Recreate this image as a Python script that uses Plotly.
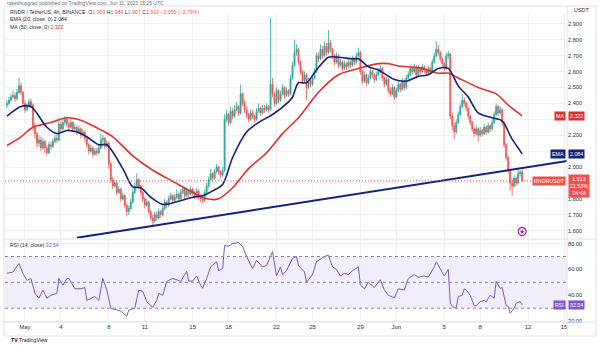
import plotly.graph_objects as go
import pandas as pd

W, H = 600, 345
FONT = "Liberation Sans, Arial, sans-serif"

# ---------------- data ----------------
t0 = pd.Timestamp("2023-04-29 12:00")   # first 4h candle
first_open = 2.39

closes = [
    2.40, 2.42, 2.44, 2.45, 2.43, 2.47, 2.51, 2.47, 2.40, 2.36,
    2.38, 2.41, 2.39, 2.26, 2.21, 2.15, 2.17, 2.12, 2.16, 2.12,
    2.09, 2.14, 2.13, 2.16, 2.18, 2.17, 2.27, 2.24, 2.28, 2.30,
    2.27, 2.25, 2.28, 2.24, 2.25, 2.22, 2.24, 2.20, 2.22, 2.18,
    2.14, 2.10, 2.12, 2.08, 2.10, 2.09, 2.12, 2.17, 2.18, 2.13,
    2.15, 2.02, 1.92, 1.88, 1.90, 1.84, 1.86, 1.80, 1.82, 1.76,
    1.72, 1.74, 1.78, 1.84, 1.88, 1.92, 1.88, 1.84, 1.80, 1.76,
    1.78, 1.72, 1.68, 1.66, 1.70, 1.68, 1.72, 1.70, 1.74, 1.78,
    1.76, 1.80, 1.82, 1.79, 1.81, 1.83, 1.80, 1.84, 1.86, 1.82,
    1.85, 1.83, 1.86, 1.84, 1.82, 1.85, 1.81, 1.80, 1.79, 1.84,
    1.88, 1.92, 1.96, 1.93, 1.97, 2.00, 1.97, 1.95, 1.98, 2.30,
    2.33, 2.28, 2.35, 2.32, 2.36, 2.38, 2.34, 2.46, 2.40, 2.36,
    2.33, 2.30, 2.34, 2.32, 2.30, 2.35, 2.37, 2.34, 2.37, 2.36,
    2.38, 2.36, 2.52, 2.46, 2.40, 2.48, 2.42, 2.46, 2.50, 2.45,
    2.48, 2.46, 2.56, 2.64, 2.72, 2.74, 2.66, 2.60, 2.54, 2.58,
    2.50, 2.54, 2.52, 2.56, 2.60, 2.70, 2.68, 2.74, 2.70, 2.76,
    2.72, 2.78, 2.74, 2.70, 2.66, 2.70, 2.64, 2.66, 2.62, 2.65,
    2.63, 2.66, 2.64, 2.68, 2.66, 2.70, 2.72, 2.60, 2.54, 2.58,
    2.53, 2.56, 2.60, 2.58, 2.55, 2.58, 2.60, 2.62, 2.56, 2.52,
    2.55, 2.48, 2.46, 2.50, 2.44, 2.48, 2.52, 2.49, 2.54, 2.50,
    2.56, 2.58, 2.62, 2.60, 2.63, 2.58, 2.62, 2.60, 2.63, 2.61,
    2.59, 2.62, 2.60, 2.66, 2.70, 2.74, 2.72, 2.68, 2.65, 2.62,
    2.70, 2.71, 2.32, 2.26, 2.22, 2.28, 2.33, 2.38, 2.42, 2.40,
    2.37, 2.32, 2.28, 2.24, 2.21, 2.24, 2.20, 2.23, 2.21, 2.25,
    2.22, 2.26, 2.24, 2.28, 2.33, 2.38, 2.34, 2.36, 2.28, 2.14,
    2.06, 1.98, 1.90, 1.88, 1.93, 1.90, 1.96, 1.969, 1.913,
]

highs = [
    2.42, 2.44, 2.46, 2.48, 2.47, 2.49, 2.56, 2.53, 2.48, 2.42,
    2.40, 2.43, 2.43, 2.40, 2.28, 2.22, 2.20, 2.19, 2.18, 2.17,
    2.14, 2.16, 2.16, 2.18, 2.20, 2.20, 2.31, 2.29, 2.30, 2.32,
    2.31, 2.29, 2.30, 2.29, 2.27, 2.26, 2.26, 2.25, 2.24, 2.23,
    2.19, 2.15, 2.14, 2.13, 2.12, 2.12, 2.14, 2.21, 2.20, 2.19,
    2.17, 2.16, 2.03, 1.94, 1.92, 1.91, 1.88, 1.87, 1.84, 1.83,
    1.77, 1.76, 1.80, 1.86, 1.90, 1.96, 1.93, 1.89, 1.85, 1.81,
    1.80, 1.79, 1.73, 1.70, 1.72, 1.72, 1.74, 1.73, 1.76, 1.80,
    1.79, 1.82, 1.84, 1.83, 1.83, 1.86, 1.84, 1.86, 1.88, 1.87,
    1.87, 1.86, 1.88, 1.87, 1.85, 1.87, 1.86, 1.83, 1.81, 1.86,
    1.90, 1.94, 1.99, 1.97, 1.99, 2.02, 2.01, 1.98, 2.00, 2.33,
    2.36, 2.34, 2.38, 2.37, 2.39, 2.41, 2.39, 2.52, 2.47, 2.42,
    2.38, 2.34, 2.36, 2.36, 2.33, 2.37, 2.40, 2.38, 2.39, 2.39,
    2.40, 2.39, 2.94, 2.56, 2.47, 2.50, 2.49, 2.48, 2.52, 2.51,
    2.50, 2.49, 2.58, 2.66, 2.80, 2.77, 2.75, 2.67, 2.61, 2.60,
    2.59, 2.56, 2.56, 2.58, 2.62, 2.72, 2.72, 2.77, 2.76, 2.79,
    2.78, 2.86, 2.80, 2.75, 2.71, 2.72, 2.71, 2.68, 2.67, 2.67,
    2.66, 2.68, 2.67, 2.70, 2.69, 2.72, 2.75, 2.73, 2.61, 2.60,
    2.59, 2.58, 2.62, 2.61, 2.59, 2.60, 2.62, 2.64, 2.63, 2.57,
    2.57, 2.56, 2.50, 2.52, 2.51, 2.50, 2.54, 2.53, 2.56, 2.55,
    2.58, 2.60, 2.64, 2.63, 2.65, 2.64, 2.64, 2.63, 2.65, 2.64,
    2.62, 2.64, 2.63, 2.68, 2.72, 2.79, 2.77, 2.73, 2.69, 2.66,
    2.72, 2.73, 2.72, 2.34, 2.28, 2.30, 2.35, 2.40, 2.46, 2.44,
    2.41, 2.38, 2.33, 2.29, 2.25, 2.26, 2.25, 2.25, 2.24, 2.27,
    2.26, 2.28, 2.27, 2.30, 2.35, 2.40, 2.39, 2.38, 2.37, 2.29,
    2.15, 2.07, 1.99, 1.92, 1.95, 1.94, 1.985, 1.98, 1.986,
]

lows = [
    2.37, 2.39, 2.41, 2.43, 2.41, 2.42, 2.46, 2.45, 2.38, 2.34,
    2.35, 2.37, 2.37, 2.23, 2.18, 2.12, 2.13, 2.10, 2.11, 2.09,
    2.07, 2.08, 2.11, 2.12, 2.15, 2.15, 2.16, 2.22, 2.23, 2.26,
    2.25, 2.23, 2.24, 2.22, 2.22, 2.20, 2.21, 2.18, 2.19, 2.16,
    2.12, 2.08, 2.09, 2.06, 2.07, 2.07, 2.08, 2.11, 2.15, 2.11,
    2.12, 1.99, 1.90, 1.86, 1.87, 1.82, 1.83, 1.78, 1.79, 1.74,
    1.69, 1.70, 1.73, 1.77, 1.83, 1.87, 1.86, 1.82, 1.78, 1.74,
    1.75, 1.70, 1.66, 1.63, 1.65, 1.66, 1.67, 1.68, 1.69, 1.73,
    1.74, 1.75, 1.79, 1.77, 1.78, 1.80, 1.78, 1.79, 1.83, 1.80,
    1.81, 1.81, 1.82, 1.82, 1.80, 1.81, 1.79, 1.78, 1.77, 1.78,
    1.83, 1.87, 1.91, 1.91, 1.92, 1.96, 1.95, 1.93, 1.94, 1.97,
    2.28, 2.26, 2.27, 2.30, 2.31, 2.35, 2.32, 2.33, 2.38, 2.34,
    2.31, 2.28, 2.29, 2.30, 2.28, 2.29, 2.34, 2.32, 2.33, 2.34,
    2.35, 2.34, 2.35, 2.44, 2.38, 2.39, 2.40, 2.41, 2.45, 2.43,
    2.44, 2.44, 2.45, 2.55, 2.63, 2.70, 2.64, 2.58, 2.52, 2.53,
    2.42, 2.49, 2.50, 2.51, 2.55, 2.59, 2.66, 2.67, 2.68, 2.69,
    2.70, 2.71, 2.72, 2.68, 2.64, 2.65, 2.62, 2.63, 2.60, 2.61,
    2.61, 2.62, 2.62, 2.63, 2.64, 2.65, 2.69, 2.58, 2.52, 2.53,
    2.51, 2.52, 2.55, 2.56, 2.53, 2.54, 2.57, 2.59, 2.54, 2.50,
    2.51, 2.46, 2.44, 2.45, 2.42, 2.43, 2.47, 2.47, 2.48, 2.48,
    2.49, 2.55, 2.57, 2.58, 2.59, 2.56, 2.57, 2.58, 2.59, 2.59,
    2.57, 2.58, 2.58, 2.59, 2.65, 2.69, 2.70, 2.66, 2.63, 2.60,
    2.61, 2.68, 2.30, 2.23, 2.175, 2.21, 2.27, 2.32, 2.37, 2.38,
    2.35, 2.30, 2.26, 2.22, 2.19, 2.20, 2.16, 2.19, 2.19, 2.20,
    2.20, 2.21, 2.22, 2.23, 2.27, 2.32, 2.32, 2.33, 2.26, 2.12,
    2.04, 1.96, 1.85, 1.82, 1.87, 1.88, 1.89, 1.94, 1.907,
]

# EMA(20) and MA(50) at candle indices
ema_idx = [0, 7, 12, 20, 25, 30, 35, 40, 46, 50,
           58, 63, 67, 72, 78, 86, 93, 98, 103, 108,
           113, 120, 126, 133, 141, 143, 146, 150, 155, 161,
           166, 173, 176, 181, 186, 194, 200, 206, 211, 216,
           221, 226, 231, 236, 243, 248, 253, 258]
ema_val = [2.32, 2.38, 2.38, 2.25, 2.21, 2.23, 2.22, 2.19, 2.14, 2.14,
           1.99, 1.875, 1.87, 1.81, 1.765, 1.785, 1.81, 1.82, 1.85, 1.89,
           2.06, 2.22, 2.28, 2.33, 2.41, 2.44, 2.53, 2.53, 2.61, 2.69,
           2.69, 2.68, 2.68, 2.63, 2.61, 2.55, 2.54, 2.57, 2.58, 2.62,
           2.62, 2.51, 2.44, 2.34, 2.31, 2.29, 2.175, 2.084]

ma_idx = [0, 7, 13, 22, 30, 38, 46, 53, 63, 73,
          83, 93, 100, 106, 113, 121, 130, 138, 146, 151,
          156, 166, 176, 186, 191, 196, 206, 216, 221, 226,
          236, 245, 251, 258]
ma_val = [2.135, 2.19, 2.25, 2.28, 2.31, 2.29, 2.24, 2.19, 2.07, 1.98,
          1.91, 1.84, 1.80, 1.80, 1.87, 1.99, 2.09, 2.21, 2.31, 2.39,
          2.47, 2.58, 2.62, 2.65, 2.65, 2.635, 2.625, 2.59, 2.59, 2.56,
          2.50, 2.46, 2.39, 2.322]

rsi_idx = [0, 3, 6, 8, 10, 12, 14, 16, 18, 20,
           22, 25, 26, 28, 30, 31, 34, 37, 39, 40,
           44, 46, 48, 50, 52, 55, 57, 60, 61, 64,
           66, 68, 70, 72, 73, 75, 76, 78, 80, 81,
           83, 85, 87, 90, 91, 93, 95, 97, 98, 100,
           102, 105, 106, 108, 109, 111, 113, 116, 118, 120,
           123, 125, 128, 130, 131, 133, 135, 137, 138, 140,
           143, 145, 146, 149, 150, 153, 155, 157, 159, 161,
           163, 165, 167, 169, 171, 173, 176, 177, 179, 181,
           184, 187, 189, 191, 194, 196, 199, 201, 204, 206,
           209, 211, 214, 215, 217, 219, 221, 222, 223, 225,
           226, 228, 229, 230, 232, 234, 235, 237, 239, 240,
           242, 244, 245, 246, 247, 248, 250, 251, 252, 254,
           255, 257, 258]
rsi_val = [57, 58, 64.6, 57, 51.5, 53, 41.5, 37.7, 44, 37.7,
           40, 41.5, 53, 47.7, 53, 53, 45, 45, 46, 36,
           39, 36, 53, 44, 30, 28.5, 27.7, 23.8, 28.5, 30,
           44, 43, 35, 32, 30.8, 36, 41.5, 40, 50.7, 51.5,
           53, 52, 50.7, 58.5, 51, 51, 55, 47.7, 45.4, 53,
           62, 66, 59, 60.7, 78.5, 78, 80, 80.8, 77.7, 70,
           60.7, 67, 62, 63, 67, 73.8, 55, 62, 56, 59,
           68.5, 70, 63, 58, 50, 56, 66, 68, 70, 71,
           62, 60, 55, 57, 56, 59, 62, 48, 45, 50,
           46, 52, 44, 40, 38, 45, 44, 53, 56, 54,
           55, 54, 62, 66, 60, 55, 60, 34, 31.5, 30,
           39, 40, 45, 44, 40, 32, 32, 35, 36, 35,
           40, 37.7, 50.7, 47.7, 45.4, 46, 32, 31.5, 26, 30,
           33.8, 35, 32.54]

date_ticks = ["2023-05-01", "2023-05-04", "2023-05-08", "2023-05-11", "2023-05-15",
              "2023-05-18", "2023-05-22", "2023-05-25", "2023-05-29", "2023-06-01",
              "2023-06-05", "2023-06-08", "2023-06-12", "2023-06-15"]
date_labels = ["May", "4", "8", "11", "15", "18", "22", "25", "29", "Jun", "5", "8", "12", "15"]
price_ticks = [1.6, 1.7, 1.8, 1.9, 2.0, 2.1, 2.2, 2.3, 2.4, 2.5, 2.6, 2.7, 2.8, 2.9]
hidden_price_ticks = [1.9, 2.1, 2.3]   # covered by the value boxes on the axis
rsi_ticks = [20, 40, 60, 80]

trend_x = ["2023-05-05 08:00", "2023-06-15 06:00"]
trend_y = [1.556, 2.0375]

last_price = 1.913
ema_last, ma_last, rsi_last = 2.084, 2.322, 32.54

# ---------------- derived ----------------
times = [t0 + pd.Timedelta(hours=4 * i) for i in range(len(closes))]
opens = [first_open] + closes[:-1]
ema_t = [times[i] for i in ema_idx]
ma_t = [times[i] for i in ma_idx]
rsi_t = [times[i] for i in rsi_idx]

X0, X1 = 5, 568          # plot area in px
MAIN_T, MAIN_B = 14, 240
RSI_T, RSI_B = 241, 324

def px(x):
    return x / W

def py(y):
    return 1 - y / H

GREEN, RED = "#26a69a", "#ef5350"
NAVY = "#16237a"
MARED = "#e0312f"
PURPLE = "#7e57c2"
GRID = "#eef0f4"
TXT = "#2a2e39"

fig = go.Figure()

fig.add_trace(go.Candlestick(
    x=times, open=opens, high=highs, low=lows, close=closes,
    xaxis="x", yaxis="y",
    increasing=dict(line=dict(color=GREEN, width=0.8), fillcolor=GREEN),
    decreasing=dict(line=dict(color=RED, width=0.8), fillcolor=RED),
    whiskerwidth=0, hoverinfo="skip",
))
fig.add_trace(go.Scatter(x=ma_t, y=ma_val, mode="lines", xaxis="x", yaxis="y",
                         line=dict(color=MARED, width=1.6, shape="spline", smoothing=0.8)))
fig.add_trace(go.Scatter(x=ema_t, y=ema_val, mode="lines", xaxis="x", yaxis="y",
                         line=dict(color=NAVY, width=1.6, shape="spline", smoothing=0.8)))
fig.add_trace(go.Scatter(x=trend_x, y=trend_y, mode="lines", xaxis="x", yaxis="y",
                         line=dict(color=NAVY, width=2)))
# event marker
fig.add_trace(go.Scatter(x=[times[-1]], y=[1.594], mode="markers", xaxis="x", yaxis="y",
                         marker=dict(symbol="circle", size=8, color="white",
                                     line=dict(color="#9c27b0", width=1.2))))
fig.add_trace(go.Scatter(x=[times[-1]], y=[1.594], mode="markers", xaxis="x", yaxis="y",
                         marker=dict(symbol="star", size=4, color="#9c27b0")))
# RSI
fig.add_trace(go.Scatter(x=rsi_t, y=rsi_val, mode="lines", xaxis="x2", yaxis="y2",
                         line=dict(color=PURPLE, width=1)))

xrange = ["2023-04-29 08:00", "2023-06-15 06:00"]
common_x = dict(domain=[px(X0), px(X1)], range=xrange, type="date",
                tickvals=date_ticks, showgrid=True, gridcolor=GRID, gridwidth=1,
                zeroline=False, showline=False, ticks="")
price_text = ["" if v in hidden_price_ticks else f"{v:.3f}" for v in price_ticks]
fig.update_layout(
    width=W, height=H, autosize=False,
    margin=dict(l=0, r=0, t=0, b=0),
    paper_bgcolor="white", plot_bgcolor="white",
    showlegend=False,
    font=dict(family=FONT, color=TXT, size=6),
    xaxis=dict(**common_x, anchor="y", showticklabels=False,
               rangeslider=dict(visible=False), matches="x2"),
    xaxis2=dict(**common_x, anchor="y2", ticktext=date_labels,
                tickfont=dict(size=6, color=TXT, family=FONT)),
    yaxis=dict(domain=[py(MAIN_B), py(MAIN_T)], range=[1.55, 2.9625], side="right",
               tickvals=price_ticks, ticktext=price_text,
               tickfont=dict(size=5.6, color=TXT, family=FONT),
               showgrid=True, gridcolor=GRID, zeroline=False, ticks="", showline=False),
    yaxis2=dict(domain=[py(RSI_B), py(RSI_T)], range=[19.2, 83.1], side="right",
                tickvals=rsi_ticks, ticktext=[f"{v:.2f}" for v in rsi_ticks],
                tickfont=dict(size=5.6, color=TXT, family=FONT),
                showgrid=True, gridcolor=GRID, zeroline=False, ticks="", showline=False),
)

shapes = []
# RSI band and levels
shapes.append(dict(type="rect", xref="paper", yref="y2", x0=px(X0), x1=px(X1), y0=30, y1=70,
                   fillcolor="rgba(126,87,194,0.10)", line=dict(width=0), layer="below"))
for lv in (70, 50, 30):
    shapes.append(dict(type="line", xref="paper", yref="y2", x0=px(X0), x1=px(X1), y0=lv, y1=lv,
                       line=dict(color="#8a8d96", width=1, dash="3px,3px")))
# current price line
shapes.append(dict(type="line", xref="paper", yref="y", x0=px(X0), x1=px(X1),
                   y0=last_price, y1=last_price, line=dict(color=RED, width=1, dash="1px,2px")))
# frame / separators
LINE = "#e0e3eb"
shapes.append(dict(type="rect", xref="paper", yref="paper", x0=px(4), x1=px(597), y0=py(338), y1=py(6),
                   line=dict(color=LINE, width=1), fillcolor="rgba(0,0,0,0)"))
shapes.append(dict(type="line", xref="paper", yref="paper", x0=px(X1), x1=px(X1), y0=py(338), y1=py(6),
                   line=dict(color=LINE, width=1)))
shapes.append(dict(type="line", xref="paper", yref="paper", x0=px(4), x1=px(597),
                   y0=py(240.5), y1=py(240.5), line=dict(color=LINE, width=1)))
shapes.append(dict(type="line", xref="paper", yref="paper", x0=px(4), x1=px(597),
                   y0=py(RSI_B), y1=py(RSI_B), line=dict(color=LINE, width=1)))
fig.update_layout(shapes=shapes)

ann = []
def txt(x, y, text, size=5.3, color=TXT, anchor="left", yanchor="middle"):
    ann.append(dict(x=px(x), y=py(y), xref="paper", yref="paper", text=text, showarrow=False,
                    xanchor=anchor, yanchor=yanchor, font=dict(size=size, color=color, family=FONT)))

def box(x, y, yref, text, bg, anchor, size=5.3):
    ann.append(dict(x=px(x), xref="paper", y=y, yref=yref, text=text, showarrow=False,
                    xanchor=anchor, yanchor="middle", bgcolor=bg, borderpad=1,
                    font=dict(size=size, color="white", family=FONT)))

def red(s):
    return f"<span style='color:{RED}'>{s}</span>"

txt(5, 3, "rakeshupgrad published on TradingView.com, Jun 11, 2023 15:25 UTC", size=5, color="#6a6d78")
txt(8, 12, "RNDR / TetherUS, 4h, BINANCE  O" + red("1.969") + " H" + red("1.986") + " L" + red("1.907")
    + " C" + red("1.913") + " " + red("−0.055 (−2.79%)"), size=5.2)
txt(8, 19.5, f"EMA (20, close, 0) <span style='color:{NAVY}'>{ema_last:.3f}</span>", size=5.2)
txt(8, 27, f"MA (50, close, 0) <span style='color:{MARED}'>{ma_last:.3f}</span>", size=5.2)
txt(8, 246, f"RSI (14, close) <span style='color:{PURPLE}'>{rsi_last:.2f}</span>", size=5.2)
txt(573, 10, "USDT", size=5.4)
txt(9, 342, "<b>TV</b> TradingView", size=5.2, color="#131722")

box(567, ma_last, "y", "MA", MARED, "right")
box(569, ma_last, "y", f"{ma_last:.3f}", MARED, "left")
box(567, ema_last, "y", "EMA", NAVY, "right")
box(569, ema_last, "y", f"{ema_last:.3f}", NAVY, "left")
box(567, last_price, "y", "RNDRUSDT", RED, "right")
box(569, last_price - 0.03, "y", f"{last_price:.3f}<br>21.53%<br>24:48", RED, "left")
box(567, rsi_last, "y2", "RSI", PURPLE, "right")
box(569, rsi_last, "y2", f"{rsi_last:.2f}", PURPLE, "left")

fig.update_layout(annotations=ann)

fig.write_html("out.html")
